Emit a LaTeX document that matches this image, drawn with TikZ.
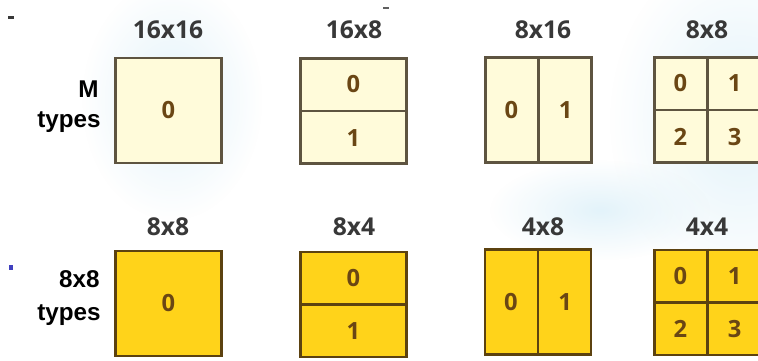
\documentclass[tikz,border=0pt]{standalone}
\usepackage{fontspec}
\usetikzlibrary{calc,fadings}
\setmainfont{Open Sans}
\newfontfamily\lblfont{Liberation Sans}
\definecolor{creamfill}{HTML}{FFFBDA}
\definecolor{goldfill}{HTML}{FFD31A}
\definecolor{creamline}{HTML}{5E5440}
\definecolor{goldline}{HTML}{5C4210}
\definecolor{digitcol}{HTML}{6A4614}
\definecolor{headcol}{HTML}{383838}
\definecolor{bgblue}{HTML}{E3F3FA}
\tikzfading[name=softfade, inner color=transparent!0, outer color=transparent!100]
\begin{document}
\begin{tikzpicture}[x=0.02cm,y=-0.02cm,
  mbox/.style={draw=creamline,fill=creamfill,line width=1.4pt,minimum width=2.12cm,minimum height=2.1cm,inner sep=0pt},
  gbox/.style={draw=goldline,fill=goldfill,line width=1.4pt,minimum width=2.12cm,minimum height=2.1cm,inner sep=0pt},
  mline/.style={draw=creamline,line width=1.3pt},
  gline/.style={draw=goldline,line width=1.3pt},
  digit/.style={text=digitcol,font=\bfseries\fontsize{13.5}{16}\selectfont,inner sep=0pt},
  head/.style={text=headcol,font=\bfseries\fontsize{14}{17}\selectfont,inner sep=0pt},
  side/.style={text=black,font=\lblfont\bfseries\fontsize{13.8}{16}\selectfont,inner sep=0pt,anchor=east}]
\useasboundingbox (0,0) rectangle (758,360);
\clip (0,0) rectangle (758,360);
\fill[white] (0,0) rectangle (758,360);
% faint blue background tints
\fill[bgblue,path fading=softfade] (172,100) ellipse (90 and 120);
\fill[bgblue,path fading=softfade] (740,120) ellipse (130 and 170);
\fill[bgblue,path fading=softfade] (600,210) ellipse (110 and 50);
% tiny marks
\fill[headcol] (8,16) rectangle (14,19);
\fill[headcol!80] (383,7) rectangle (389,9);
\fill[blue!50!gray] (9,265) rectangle (13,270);
% headings
\node[head] (h1) at (168,30) {16x16};
\node[head] (h2) at (354,30) {16x8};
\node[head] (h3) at (543,30) {8x16};
\node[head] (h4) at (707,30) {8x8};
\node[head] (h5) at (168,227) {8x8};
\node[head] (h6) at (354,227) {8x4};
\node[head] (h7) at (543,227) {4x8};
\node[head] (h8) at (707,227) {4x4};
% side labels
\node[side] (sM) at (99,89) {M};
\node[side] (sT1) at (101,122) {types};
\node[side] (s8) at (100,279) {8x8};
\node[side] (sT2) at (101,315) {types};
% top row boxes
\node[mbox] (a1) at (168.5,110.5) {};
\node[mbox] (a2) at (353.5,111) {};
\node[mbox] (a3) at (538.5,110) {};
\node[mbox] (a4) at (707.5,110) {};
\draw[mline] (a2.west) -- (a2.east);
\draw[mline] (a3.north) -- (a3.south);
\draw[mline] (a4.west) -- (a4.east);
\draw[mline] (a4.north) -- (a4.south);
\node[digit] at (a1.center) {0};
\node[digit] at ($(a2.center)!0.5!(a2.north)$) {0};
\node[digit] at ($(a2.center)!0.5!(a2.south)$) {1};
\node[digit] at ($(a3.center)!0.5!(a3.west)$) {0};
\node[digit] at ($(a3.center)!0.5!(a3.east)$) {1};
\node[digit] at ($(a4.center)!0.5!(a4.north west)$) {0};
\node[digit] at ($(a4.center)!0.5!(a4.north east)$) {1};
\node[digit] at ($(a4.center)!0.5!(a4.south west)$) {2};
\node[digit] at ($(a4.center)!0.5!(a4.south east)$) {3};
% bottom row boxes
\node[gbox] (b1) at (168.5,303.5) {};
\node[gbox] (b2) at (353.5,304.5) {};
\node[gbox] (b3) at (538,302) {};
\node[gbox] (b4) at (707.5,302.5) {};
\draw[gline] (b2.west) -- (b2.east);
\draw[gline] (b3.north) -- (b3.south);
\draw[gline] (b4.west) -- (b4.east);
\draw[gline] (b4.north) -- (b4.south);
\node[digit] at (b1.center) {0};
\node[digit] at ($(b2.center)!0.5!(b2.north)$) {0};
\node[digit] at ($(b2.center)!0.5!(b2.south)$) {1};
\node[digit] at ($(b3.center)!0.5!(b3.west)$) {0};
\node[digit] at ($(b3.center)!0.5!(b3.east)$) {1};
\node[digit] at ($(b4.center)!0.5!(b4.north west)$) {0};
\node[digit] at ($(b4.center)!0.5!(b4.north east)$) {1};
\node[digit] at ($(b4.center)!0.5!(b4.south west)$) {2};
\node[digit] at ($(b4.center)!0.5!(b4.south east)$) {3};
\end{tikzpicture}
\end{document}
